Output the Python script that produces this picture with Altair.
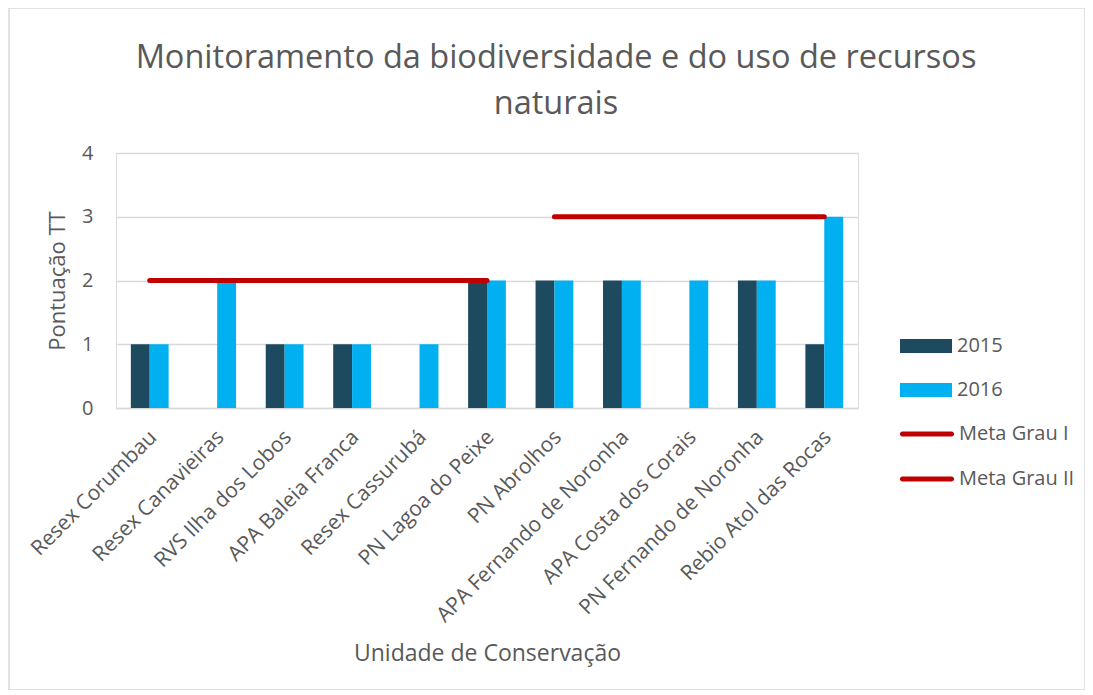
import altair as alt
import pandas as pd

categories = [
    "Resex Corumbau", "Resex Canavieiras", "RVS Ilha dos Lobos", "APA Baleia Franca",
    "Resex Cassurubá", "PN Lagoa do Peixe", "PN Abrolhos", "APA Fernando de Noronha",
    "APA Costa dos Corais", "PN Fernando de Noronha", "Rebio Atol das Rocas",
]
v2015 = [1, None, 1, 1, None, 2, 2, 2, None, 2, 1]
v2016 = [1, 2, 1, 1, 1, 2, 2, 2, 2, 2, 3]
meta1 = [2, 2, 2, 2, 2, 2, None, None, None, None, None]
meta2 = [None, None, None, None, None, None, 3, 3, 3, 3, 3]

series_names = ["2015", "2016"]
meta_names = ["Meta Grau I", "Meta Grau II"]

bar_rows = []
for c, a, b in zip(categories, v2015, v2016):
    if a is not None:
        bar_rows.append({"UC": c, "Série": "2015", "Valor": a})
    if b is not None:
        bar_rows.append({"UC": c, "Série": "2016", "Valor": b})
bars_df = pd.DataFrame(bar_rows)

meta_rows = []
for name, vals in zip(meta_names, [meta1, meta2]):
    for c, v in zip(categories, vals):
        if v is not None:
            meta_rows.append({"UC": c, "Meta": name, "Valor": v})
meta_df = pd.DataFrame(meta_rows)

FONT = "Open Sans"
GRAY = "#595959"
W, H = 742, 255
PAD = {"left": 108, "top": 145, "right": 227, "bottom": 282}

x_enc = alt.X(
    "UC:N", sort=categories, title="Unidade de Conservação",
    scale=alt.Scale(paddingInner=0.44, paddingOuter=0.22),
    axis=alt.Axis(labelAngle=-45, labelAlign="right", labelBaseline="top",
                  labelPadding=18, labelOffset=-4, labelFontSize=21, labelColor=GRAY,
                  labelFont=FONT, labelLimit=400, labelOverlap=False,
                  ticks=False, domainColor="#D9D9D9", domainWidth=1.5, grid=False,
                  titleFontSize=23, titleFont=FONT, titleColor=GRAY,
                  titleFontWeight="normal", titlePadding=34),
)
y_enc = alt.Y(
    "Valor:Q", title="Pontuação TT",
    scale=alt.Scale(domain=[0, 4]),
    axis=alt.Axis(values=[0, 1, 2, 3, 4], format="d", domain=False, ticks=False,
                  gridColor="#D9D9D9", gridWidth=1.5, labelFontSize=20,
                  labelColor=GRAY, labelFont=FONT, labelPadding=23,
                  titleFontSize=22, titleFont=FONT, titleColor=GRAY,
                  titleFontWeight="normal", titlePadding=12),
)

bars = alt.Chart(bars_df).mark_bar().encode(
    x=x_enc,
    y=y_enc,
    xOffset=alt.XOffset("Série:N", scale=alt.Scale(domain=series_names, paddingInner=0, paddingOuter=0)),
    color=alt.Color(
        "Série:N",
        scale=alt.Scale(domain=series_names, range=["#1D4A5E", "#00B0F0"]),
        legend=alt.Legend(
            title=None, orient="none", legendX=784, legendY=167,
            symbolType="M-1,-0.27H1V0.27H-1Z", symbolSize=2704,
            labelFontSize=20, labelFont=FONT, labelColor=GRAY,
            labelOffset=5, rowPadding=8, symbolStrokeWidth=0,
        ),
    ),
)

lines = alt.Chart(meta_df).mark_line(strokeWidth=5, strokeCap="round").encode(
    x=alt.X("UC:N", sort=categories),
    y=alt.Y("Valor:Q"),
    detail="Meta:N",
    stroke=alt.Stroke(
        "Meta:N",
        scale=alt.Scale(domain=meta_names, range=["#C00000", "#C00000"]),
        legend=alt.Legend(
            title=None, orient="none", legendX=784, legendY=254,
            symbolType="M-0.91,-0.0925H0.91A0.0925,0.0925 0 0 1 0.91,0.0925H-0.91A0.0925,0.0925 0 0 1 -0.91,-0.0925Z",
            symbolSize=2916, symbolStrokeWidth=0, symbolFillColor="#C00000",
            labelFontSize=20, labelFont=FONT, labelColor=GRAY,
            labelOffset=5, rowPadding=8,
        ),
    ),
)

border = alt.Chart(alt.Data(values=[{"k": 1}])).mark_rect(
    fill=None, stroke="#D9D9D9", strokeWidth=1.5
).encode(
    x=alt.value(-107), x2=alt.value(969), y=alt.value(-145), y2=alt.value(537)
)

chart = alt.layer(border, bars, lines).properties(
    width=W, height=H,
    padding=PAD,
    autosize=alt.AutoSizeParams(type="none"),
    title=alt.Title(
        ["Monitoramento da biodiversidade e do uso de recursos", "naturais"],
        fontSize=32.5, font=FONT, color=GRAY, fontWeight="normal",
        lineHeight=46, anchor="middle", frame="group", dx=69, offset=0, dy=113,
    ),
).configure_view(stroke=None).configure(background="white")

chart.save("out.html", embed_options={"renderer": "svg", "actions": False})
